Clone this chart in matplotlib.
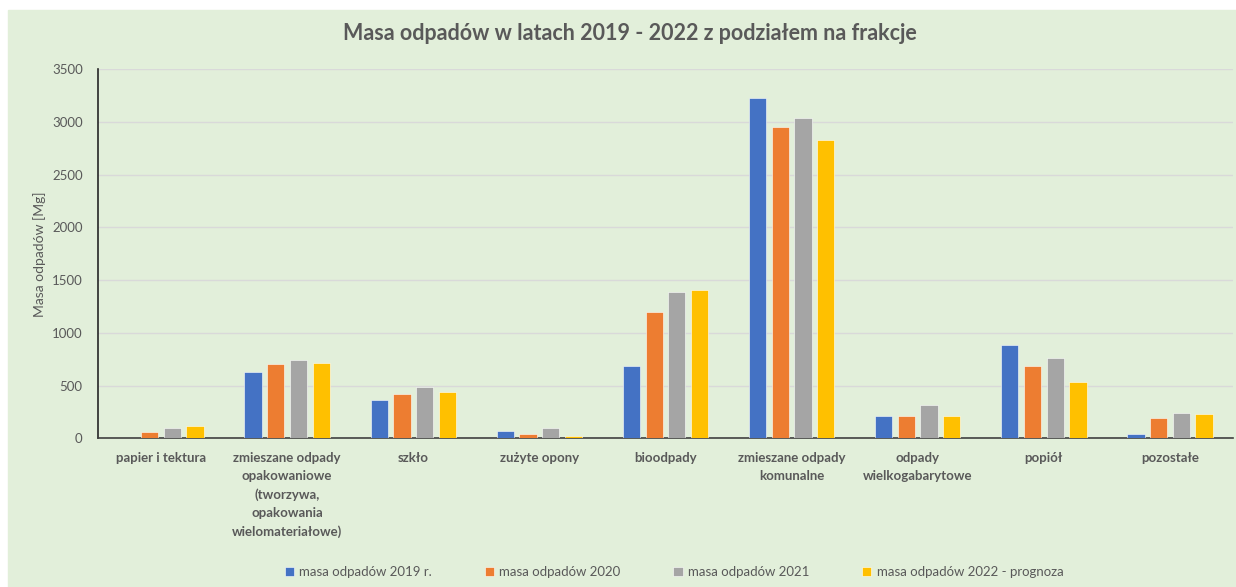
import numpy as np
import matplotlib.pyplot as plt
from matplotlib.patches import Rectangle

# categories (fractions of waste)
categories = [
    "papier i tektura",
    "zmieszane odpady\nopakowaniowe\n(tworzywa,\nopakowania\nwielomateriałowe)",
    "szkło",
    "zużyte opony",
    "bioodpady",
    "zmieszane odpady\nkomunalne",
    "odpady\nwielkogabarytowe",
    "popiół",
    "pozostałe",
]

# values [Mg]
masa_2019 = [0, 630, 364, 73, 690, 3225, 212, 883, 39]
masa_2020 = [57, 706, 425, 45, 1200, 2950, 212, 684, 193]
masa_2021 = [98, 744, 491, 98, 1390, 3035, 314, 759, 241]
masa_2022 = [120, 719, 437, 22, 1403, 2832, 212, 532, 228]

series_names = ["masa odpadów 2019 r.", "masa odpadów 2020",
                "masa odpadów 2021", "masa odpadów 2022 - prognoza"]
colors = ["#4472C4", "#ED7D31", "#A5A5A5", "#FFC000"]

plt.rcParams['font.family'] = ['Lato', 'DejaVu Sans']
txt = "#595959"

W, H = 1236, 587
fig = plt.figure(figsize=(W / 100, H / 100), dpi=100)
fig.patch.set_facecolor("white")
# green chart area with a small white margin top/left
fig.patches.append(Rectangle((8 / W, 0), 1 - 8 / W, (H - 10) / H,
                             transform=fig.transFigure, color="#E2EFDA", zorder=-10))

ax = fig.add_axes([98 / W, (H - 438.4) / H, (1233 - 98) / W, (438.4 - 69.3) / H])
ax.patch.set_alpha(0)

x = np.arange(len(categories))
slot = 0.18
bw = 0.137
for i, (vals, name, c) in enumerate(zip([masa_2019, masa_2020, masa_2021, masa_2022],
                                         series_names, colors)):
    ax.bar(x + (i - 1.5) * slot, vals, width=bw, color=c, label=name,
           edgecolor="#ffffff", linewidth=0.4, zorder=3)

ax.set_xlim(-0.5, len(categories) - 0.5)
ax.set_ylim(0, 3500)
ax.set_yticks(range(0, 3501, 500))
ax.grid(axis="y", color="#D9D9D9", linewidth=1.0, zorder=0)
ax.tick_params(axis="both", length=0, colors=txt, labelsize=9.5)
ax.tick_params(axis="y", pad=11)
ax.tick_params(axis="x", pad=10)
ax.set_xticks(x)
ax.set_xticklabels(categories, fontsize=9.5, color=txt, fontweight="bold", linespacing=1.6)

for s in ["top", "right"]:
    ax.spines[s].set_visible(False)
ax.spines["left"].set_color("#262626")
ax.spines["bottom"].set_color("#404040")
ax.spines["left"].set_linewidth(1.2)
ax.spines["bottom"].set_linewidth(1.2)

ax.set_ylabel("Masa odpadów [Mg]", color=txt, fontsize=10, labelpad=4)
fig.text(630 / W, 1 - 33 / H, "Masa odpadów w latach 2019 - 2022 z podziałem na frakcje",
         ha="center", va="center", fontsize=15.5, fontweight="bold", color=txt)

leg = ax.legend(loc="center", bbox_to_anchor=(674 / W, 15 / H), bbox_transform=fig.transFigure,
                ncol=4, frameon=False, fontsize=9.5, handlelength=0.7, handleheight=0.7,
                columnspacing=4.0, handletextpad=0.4)
for t in leg.get_texts():
    t.set_color(txt)

fig.savefig("out.png", dpi=100)
